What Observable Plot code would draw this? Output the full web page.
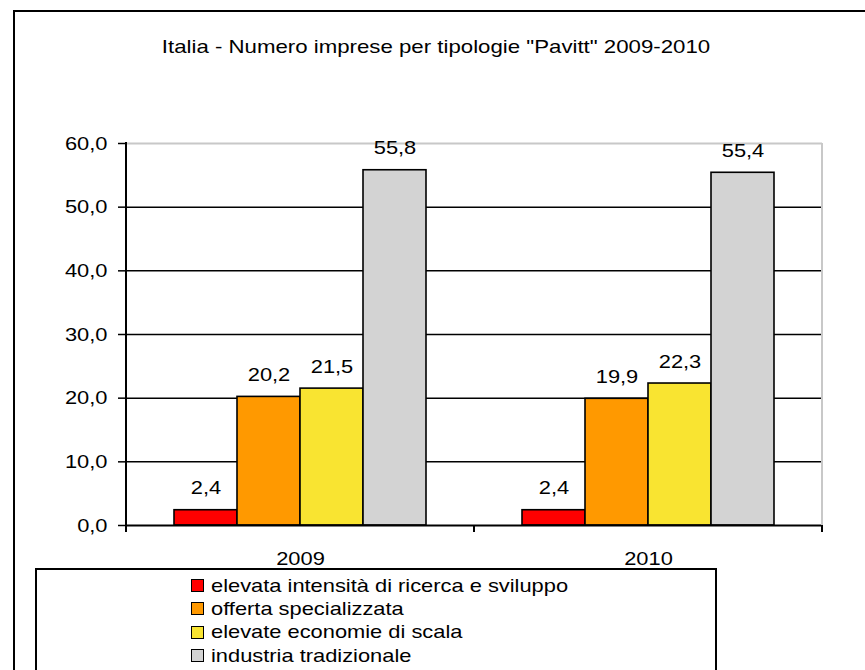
<!DOCTYPE html>
<html>
<head>
<meta charset="utf-8">
<script src="https://cdn.jsdelivr.net/npm/d3@7"></script>
<script src="https://cdn.jsdelivr.net/npm/@observablehq/plot@0.6"></script>
<style>
  html, body { margin: 0; padding: 0; background: #fff; }
  body { width: 865px; height: 670px; overflow: hidden; position: relative;
         font-family: "Liberation Sans", Arial, sans-serif; color: #000; }
  #frame { position: absolute; left: 13px; top: 10px; width: 900px; height: 700px;
           border-left: 2px solid #000; border-top: 2px solid #000; box-sizing: border-box; }
  #title { position: absolute; left: 436px; top: 36px; font-size: 19px; line-height: 22px;
           white-space: nowrap; transform: translateX(-50%) scaleX(1.17); }
  #chart { position: absolute; left: 0; top: 100px; }
  #legend { position: absolute; left: 35px; top: 568px; width: 682px; height: 150px;
            border: 2px solid #000; box-sizing: border-box; }
  .sw { position: absolute; width: 13px; height: 13px; border: 1.5px solid #000; box-sizing: border-box; }
  .lt { position: absolute; font-size: 19px; line-height: 23px; white-space: nowrap;
        transform-origin: left center; transform: scaleX(1.15); }
</style>
</head>
<body>
<div id="frame"></div>
<div id="title">Italia - Numero imprese per tipologie "Pavitt" 2009-2010</div>
<div id="chart"></div>
<div id="legend"></div>
<script>
const years = ["2009", "2010"];
const categories = [
  "elevata intensità di ricerca e sviluppo",
  "offerta specializzata",
  "elevate economie di scala",
  "industria tradizionale"
];
const values2009 = [2.4, 20.2, 21.5, 55.8];
const values2010 = [2.4, 19.9, 22.3, 55.4];
const colors = ["#FF0000", "#FF9900", "#F9E431", "#D3D3D3"];
const yTicks = [0, 10, 20, 30, 40, 50, 60];

const seriesByYear = [values2009, values2010];
const data = [];
years.forEach((yr, j) => categories.forEach((c, i) =>
  data.push({ year: yr, category: c, value: seriesByYear[j][i] })));

const fmt = v => v.toFixed(1).replace(".", ",");

const chart = Plot.plot({
  width: 865, height: 470,
  marginLeft: 125, marginRight: 43, marginTop: 43, marginBottom: 45,
  style: { background: "transparent", fontFamily: "'Liberation Sans', Arial, sans-serif",
           fontSize: "19px", color: "#000", overflow: "visible" },
  fx: { domain: years, padding: 0, label: null },
  x: { domain: categories, paddingInner: 0, paddingOuter: 0.733, axis: null },
  y: { domain: [0, 60], label: null },
  color: { type: "ordinal", domain: categories, range: colors },
  marks: [
    Plot.ruleY(yTicks.filter(t => t > 0 && t < 60), { stroke: "#000", strokeWidth: 1.5 }),
    Plot.ruleY([60], { stroke: "#c8c8c8", strokeWidth: 2 }),
    Plot.barY(data, { fx: "year", x: "category", y: "value", fill: "category",
                      stroke: "#000", strokeWidth: 1.6 }),
    Plot.ruleY([0], { stroke: "#000", strokeWidth: 2 }),
    Plot.text(data, { fx: "year", x: "category", y: "value", text: d => fmt(d.value),
                      dy: -22, fontSize: 19, fill: "#000" }),
    Plot.axisY({ ticks: yTicks, tickFormat: fmt, tickSize: 8, tickPadding: 11,
                 fontSize: 19, strokeWidth: 1.5, label: null }),
    Plot.axisFx({ anchor: "bottom", tickSize: 0, tickPadding: 26, fontSize: 19, label: null })
  ]
});
document.getElementById("chart").append(chart);

// frame decorations derived from the plot's scales
const fx = chart.scale("fx"), y = chart.scale("y");
const x0 = fx.apply(years[0]);
const x1 = fx.apply(years[years.length - 1]) + fx.bandwidth;
const y0 = y.apply(0), yTop = y.apply(60);
const g = d3.select(chart).append("g");
g.append("line").attr("x1", x1).attr("x2", x1).attr("y1", yTop).attr("y2", y0)
  .attr("stroke", "#c8c8c8").attr("stroke-width", 2);
g.append("line").attr("x1", x0).attr("x2", x0).attr("y1", yTop - 1).attr("y2", y0 + 7)
  .attr("stroke", "#000").attr("stroke-width", 2);
const bounds = years.slice(1).map(yr => fx.apply(yr)).concat([x1]);
bounds.forEach(bx => g.append("line").attr("x1", bx).attr("x2", bx)
  .attr("y1", y0).attr("y2", y0 + 7).attr("stroke", "#000").attr("stroke-width", 2));

// horizontal stretch of the text to match the reference's rendering
chart.querySelectorAll("text").forEach(t => {
  const L = t.getComputedTextLength();
  if (L > 0) { t.setAttribute("textLength", L * 1.15); t.setAttribute("lengthAdjust", "spacingAndGlyphs"); }
});

// legend
categories.forEach((c, i) => {
  const sw = document.createElement("div");
  sw.className = "sw";
  sw.style.left = "191px";
  sw.style.top = (579.3 + i * 23.1) + "px";
  sw.style.background = colors[i];
  document.body.append(sw);
  const t = document.createElement("div");
  t.className = "lt";
  t.style.left = "211px";
  t.style.top = (574.2 + i * 23.1) + "px";
  t.textContent = c;
  document.body.append(t);
});
</script>
</body>
</html>
